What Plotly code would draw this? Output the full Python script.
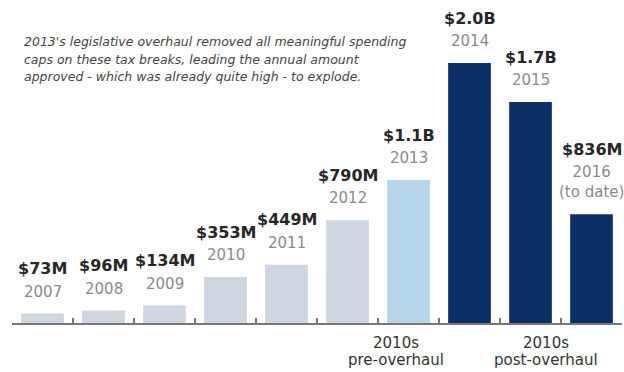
import plotly.graph_objects as go

# Annual amount approved for the tax breaks, in millions of dollars
years = ["2007", "2008", "2009", "2010", "2011", "2012", "2013", "2014", "2015", "2016"]
amounts_m = [73, 96, 134, 353, 449, 790, 1100, 2000, 1700, 836]
value_labels = ["$73M", "$96M", "$134M", "$353M", "$449M", "$790M",
                "$1.1B", "$2.0B", "$1.7B", "$836M"]
year_labels = ["2007", "2008", "2009", "2010", "2011", "2012",
               "2013", "2014", "2015", "2016<br>(to date)"]
periods = ["before", "before", "before", "before", "before", "before",
           "pre", "post", "post", "post"]
note_lines = [
    "2013's legislative overhaul removed all meaningful spending",
    "caps on these tax breaks, leading the annual amount",
    "approved - which was already quite high - to explode.",
]

period_colors = {"before": "#cdd6e1", "pre": "#b5d6e9", "post": "#0c2f68"}
bar_colors = [period_colors[p] for p in periods]

FONT = "DejaVu Sans"

# one slot per year on a numeric axis
pos = list(range(len(years)))
boundaries = [p - 0.5 for p in pos] + [pos[-1] + 0.5]

fig = go.Figure(
    go.Bar(
        x=pos,
        y=amounts_m,
        width=0.7,
        marker=dict(color=bar_colors, line=dict(width=0)),
        hoverinfo="skip",
    )
)

annotations = []
for p, val, vlab, ylab in zip(pos, amounts_m, value_labels, year_labels):
    extra = 20 if "<br>" in ylab else 0
    annotations.append(dict(
        x=p, y=val, xref="x", yref="y", text=ylab, showarrow=False,
        yanchor="middle", yshift=22 + extra / 2,
        font=dict(family=FONT, size=15, color="#8a8a8a"),
    ))
    annotations.append(dict(
        x=p, y=val, xref="x", yref="y", text=f"<b>{vlab}</b>", showarrow=False,
        yanchor="middle", yshift=45 + extra,
        font=dict(family=FONT, size=16, color="#262626"),
    ))

# Period captions under the axis, one line at a time for tight spacing
captions = [("2013", -13, ["2010s", "pre-overhaul"]),
            ("2015", 15, ["2010s", "post-overhaul"])]
for yr, dx, lines in captions:
    for i, line in enumerate(lines):
        annotations.append(dict(
            x=years.index(yr), y=0, xref="x", yref="y", text=line,
            showarrow=False, yanchor="middle", yshift=-20 - 17 * i, xshift=dx,
            font=dict(family=FONT, size=15, color="#333333"),
        ))

W, H = 624, 372
M_L, M_R, M_T, M_B = 12, 2, 0, 49
pw, ph = W - M_L - M_R, H - M_T - M_B

# Explanatory note, top left
for i, line in enumerate(note_lines):
    annotations.append(dict(
        x=(22 - M_L) / pw, y=1 - (41 + 18 * i - M_T) / ph,
        xref="paper", yref="paper",
        showarrow=False, xanchor="left", yanchor="middle", align="left",
        text=f"<i>{line}</i>",
        font=dict(family=FONT, size=12.5, color="#444444"),
    ))

fig.update_layout(
    width=W, height=H,
    margin=dict(l=M_L, r=M_R, t=M_T, b=M_B),
    paper_bgcolor="white", plot_bgcolor="white",
    showlegend=False,
    annotations=annotations,
    xaxis=dict(
        range=[boundaries[0], boundaries[-1]],
        tickmode="array", tickvals=boundaries,
        showticklabels=False,
        showgrid=False,
        zeroline=False,
        showline=True, linecolor="#777777", linewidth=2,
        ticks="inside", ticklen=5,
        tickcolor="#777777", tickwidth=2,
    ),
    yaxis=dict(
        range=[0, 2485],
        visible=False,
        showgrid=False,
        zeroline=False,
    ),
)

fig.write_html("out.html")
